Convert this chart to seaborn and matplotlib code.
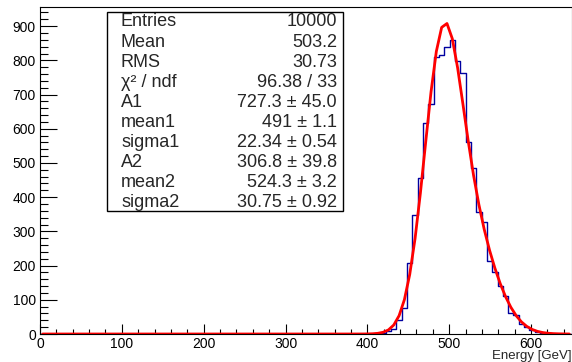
import numpy as np
import pandas as pd
import matplotlib
matplotlib.use('Agg')
import matplotlib.pyplot as plt
import seaborn as sns
from matplotlib.ticker import MultipleLocator
from matplotlib.patches import Rectangle


# histogram: 100 bins of 6.5 GeV from 0 to 650, only the filled bins listed
bin_width = 6.5
n_bins = 100
first_bin = 63
counts = [1, 4, 10, 14, 41, 75, 207, 348, 455, 618, 672, 811, 816, 840, 860,
          798, 762, 562, 484, 358, 328, 213, 182, 141, 112, 60, 57, 28, 21,
          12, 7, 3, 4, 1]

# double gaussian fit parameters from the stats box
A1, mean1, sigma1 = 727.3, 491.0, 22.34
A2, mean2, sigma2 = 306.8, 524.3, 30.75

stat_names = ['Entries', 'Mean', 'RMS', 'χ² / ndf', 'A1', 'mean1', 'sigma1',
              'A2', 'mean2', 'sigma2']
stat_values = ['10000', '503.2', '30.73', '96.38 / 33', '727.3 ± 45.0',
               '491 ± 1.1', '22.34 ± 0.54', '306.8 ± 39.8', '524.3 ± 3.2',
               '30.75 ± 0.92']


edges = [i * bin_width for i in range(n_bins + 1)]
centers = np.array(edges[:-1]) + bin_width / 2
all_counts = np.zeros(n_bins)
all_counts[first_bin:first_bin + len(counts)] = counts
df = pd.DataFrame({'energy': centers, 'count': all_counts})

fit_y = (A1 * np.exp(-0.5 * ((centers - mean1) / sigma1) ** 2)
         + A2 * np.exp(-0.5 * ((centers - mean2) / sigma2) ** 2))

sns.set_style('ticks')
plt.rcParams['font.family'] = ['Liberation Sans', 'DejaVu Sans']

W, H = 572, 362
fig = plt.figure(figsize=(W / 100, H / 100), dpi=100)
ax = fig.add_axes([40 / W, 28 / H, 532 / W, 327 / H])

sns.histplot(data=df, x='energy', weights='count', bins=edges, element='step',
             fill=False, color='#0000a0', linewidth=1, ax=ax)
sns.lineplot(x=centers, y=fit_y, color='red', linewidth=2, ax=ax)

ax.set_xlim(0, 650)
ax.set_ylim(0, 956)
ax.set_xlabel('')
ax.set_ylabel('')
ax.xaxis.set_major_locator(MultipleLocator(100))
ax.xaxis.set_minor_locator(MultipleLocator(20))
ax.yaxis.set_major_locator(MultipleLocator(100))
ax.yaxis.set_minor_locator(MultipleLocator(20))
ax.tick_params(axis='both', which='both', direction='in', colors='black',
               labelsize=10, width=0.8, pad=3)
ax.tick_params(axis='x', which='both', pad=2)
ax.tick_params(axis='x', which='major', length=7)
ax.tick_params(axis='x', which='minor', length=3.5)
ax.tick_params(axis='y', which='major', length=12)
ax.tick_params(axis='y', which='minor', length=6)
for s in ax.spines.values():
    s.set_color('black')
    s.set_linewidth(0.8)

fig.text(0.999, 0, 'Energy [GeV]', ha='right', va='bottom', fontsize=9.5)

# stats box
x0, y0, x1, y1 = 107, 12, 343, 211
fig.patches.append(Rectangle((x0 / W, 1 - y1 / H), (x1 - x0) / W, (y1 - y0) / H,
                             transform=fig.transFigure, facecolor='white',
                             edgecolor='black', linewidth=1, zorder=5))
for i, (name, val) in enumerate(zip(stat_names, stat_values)):
    yy = 1 - (22 + i * 20.1) / H
    fig.text(121 / W, yy, name, ha='left', va='center', fontsize=13, zorder=6)
    fig.text(337 / W, yy, val, ha='right', va='center', fontsize=13, zorder=6)

fig.savefig('out.png', dpi=100)
